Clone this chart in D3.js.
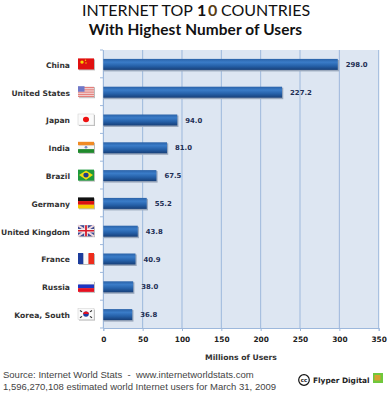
<!DOCTYPE html>
<html>
<head>
<meta charset="utf-8">
<script src="https://cdn.jsdelivr.net/npm/d3@7"></script>
<style>
html, body { margin: 0; padding: 0; background: #fff; }
svg { display: block; }
</style>
</head>
<body>
<div id="chart"></div>
<script>
// Data
const countries = ["China", "United States", "Japan", "India", "Brazil", "Germany", "United Kingdom", "France", "Russia", "Korea, South"];
const users = [298.0, 227.2, 94.0, 81.0, 67.5, 55.2, 43.8, 40.9, 38.0, 36.8];
const xTicks = [0, 50, 100, 150, 200, 250, 300, 350];

const margin = { top: 50, right: 11, bottom: 72, left: 103 };
const width = 390 - margin.left - margin.right;
const height = 400 - margin.top - margin.bottom;

const svg = d3.select("#chart").append("svg").attr("width", 390).attr("height", 400);
const defs = svg.append("defs");

// Bar shading
const grad = defs.append("linearGradient").attr("id", "barFill").attr("x1", 0).attr("x2", 0).attr("y1", 0).attr("y2", 1);
grad.append("stop").attr("offset", "0%").attr("stop-color", "#2a62a8");
grad.append("stop").attr("offset", "30%").attr("stop-color", "#3a7cc8");
grad.append("stop").attr("offset", "65%").attr("stop-color", "#2560a8");
grad.append("stop").attr("offset", "100%").attr("stop-color", "#173f78");

// Titles
svg.append("text").attr("x", 82).attr("y", 16)
    .style("font-family", "Lato").style("font-size", "16px").style("fill", "#111")
    .text("INTERNET TOP");
svg.append("text").attr("x", 197).attr("y", 16.3)
    .style("font-family", "Lato").style("font-size", "16px").style("font-weight", "bold").style("fill", "#111")
    .text("1");
svg.append("text").attr("x", 208).attr("y", 16.3)
    .style("font-family", "Lato").style("font-size", "16px").style("font-weight", "bold").style("fill", "#5a3c14")
    .text("0");
svg.append("text").attr("x", 221).attr("y", 16)
    .style("font-family", "Lato").style("font-size", "16px").style("fill", "#111")
    .text("COUNTRIES");
svg.append("text").attr("x", 195.5).attr("y", 35).attr("text-anchor", "middle")
    .style("font-family", "Lato").style("font-size", "15.4px").style("font-weight", "bold").style("fill", "#111")
    .style("letter-spacing", "0.1px")
    .text("With Highest Number of Users");

const g = svg.append("g").attr("transform", `translate(${margin.left}, ${margin.top})`);

// Scales
const x = d3.scaleLinear().domain([0, 350]).range([0.3, width - 0.3]);
const y = d3.scaleBand().domain(countries).range([0, height]);

// Plot background
g.append("rect").attr("width", width).attr("height", height).attr("fill", "#dde6f2");

// Gridlines
g.selectAll(".grid").data(xTicks).enter().append("line")
    .attr("class", "grid")
    .attr("x1", d => x(d)).attr("x2", d => x(d))
    .attr("y1", 0).attr("y2", height)
    .attr("stroke", "#9db8dc").attr("stroke-width", 1);

// X axis
const xAxis = g.append("g").attr("transform", `translate(0, ${height})`)
    .call(d3.axisBottom(x).tickValues(xTicks).tickSize(3).tickPadding(6));
xAxis.selectAll("path, line").attr("stroke", "#9db8dc");
xAxis.selectAll("text")
    .style("font-family", "'DejaVu Sans'").style("font-size", "7.4px").style("font-weight", "bold").style("fill", "#222");

// Y axis
const yAxis = g.append("g").call(d3.axisLeft(y).tickSize(0).tickPadding(33));
yAxis.selectAll("path").attr("stroke", "#9db8dc");
yAxis.selectAll("text")
    .attr("dy", "0.5em")
    .style("font-family", "'DejaVu Sans'").style("font-size", "7.6px").style("font-weight", "bold").style("fill", "#333");
g.selectAll(".band-tick").data(d3.range(countries.length + 1)).enter().append("line")
    .attr("class", "band-tick")
    .attr("x1", -3).attr("x2", 0)
    .attr("y1", d => d * y.step()).attr("y2", d => d * y.step())
    .attr("stroke", "#9db8dc");

// Bars
const barH = 11;
g.selectAll(".shadow").data(countries).enter().append("rect")
    .attr("class", "shadow")
    .attr("x", 0.5)
    .attr("y", d => y(d) + y.bandwidth() / 2 - barH / 2 + 1.5)
    .attr("width", (d, i) => x(users[i]) - x(0) + 1)
    .attr("height", barH + 0.5)
    .attr("fill", "#9aa8bc");
g.selectAll(".bar").data(countries).enter().append("rect")
    .attr("class", "bar")
    .attr("x", x(0))
    .attr("y", d => y(d) + y.bandwidth() / 2 - barH / 2 + 0.5)
    .attr("width", (d, i) => x(users[i]) - x(0))
    .attr("height", barH)
    .attr("fill", "url(#barFill)");

// Value labels
g.selectAll(".value").data(countries).enter().append("text")
    .attr("class", "value")
    .attr("x", (d, i) => x(users[i]) + 8)
    .attr("y", d => y(d) + y.bandwidth() / 2 + 3)
    .style("font-family", "'DejaVu Sans'").style("font-size", "6.9px").style("font-weight", "bold").style("fill", "#1d2f55")
    .text((d, i) => users[i].toFixed(1));

// X axis title
svg.append("text").attr("x", 241).attr("y", 360).attr("text-anchor", "middle")
    .style("font-family", "'DejaVu Sans'").style("font-size", "7.7px").style("font-weight", "bold").style("fill", "#333")
    .text("Millions of Users");

// Flags, 16x12, drawn in their own little group
const flagDrawers = {
    "China": f => {
        f.append("rect").attr("width", 16).attr("height", 12).attr("fill", "#e01010");
        f.append("circle").attr("cx", 4).attr("cy", 4).attr("r", 1.7).attr("fill", "#f6d800");
        f.append("circle").attr("cx", 7.5).attr("cy", 2).attr("r", 0.7).attr("fill", "#f6d800");
        f.append("circle").attr("cx", 8).attr("cy", 5).attr("r", 0.7).attr("fill", "#f6d800");
    },
    "United States": f => {
        f.append("rect").attr("width", 16).attr("height", 12).attr("fill", "#f4e8e8");
        [1, 3.4, 5.8, 8.2, 10.4].forEach(s => f.append("rect").attr("y", s).attr("width", 16).attr("height", 1.2).attr("fill", "#e2706c"));
        f.append("rect").attr("width", 6.5).attr("height", 6).attr("fill", "#6f78c8");
    },
    "Japan": f => {
        f.append("rect").attr("width", 16).attr("height", 12).attr("fill", "#fafafa").attr("stroke", "#ccc").attr("stroke-width", 0.5);
        f.append("circle").attr("cx", 8).attr("cy", 6).attr("r", 3).attr("fill", "#ee1010");
    },
    "India": f => {
        f.append("rect").attr("width", 16).attr("height", 4).attr("fill", "#f08a24");
        f.append("rect").attr("y", 4).attr("width", 16).attr("height", 4).attr("fill", "#f6f6f6");
        f.append("rect").attr("y", 8).attr("width", 16).attr("height", 4).attr("fill", "#1f8a2c");
        f.append("circle").attr("cx", 8).attr("cy", 6).attr("r", 1.4).attr("fill", "#7a8cc8");
    },
    "Brazil": f => {
        f.append("rect").attr("width", 16).attr("height", 12).attr("fill", "#1f9a3c");
        f.append("path").attr("d", "M8 1 L15 6 L8 11 L1 6 Z").attr("fill", "#f0dc10");
        f.append("circle").attr("cx", 8).attr("cy", 6).attr("r", 2.6).attr("fill", "#1c3c8c");
    },
    "Germany": f => {
        f.append("rect").attr("width", 16).attr("height", 4).attr("fill", "#111");
        f.append("rect").attr("y", 4).attr("width", 16).attr("height", 4).attr("fill", "#dd1010");
        f.append("rect").attr("y", 8).attr("width", 16).attr("height", 4).attr("fill", "#f6c800");
    },
    "United Kingdom": f => {
        f.append("rect").attr("width", 16).attr("height", 12).attr("fill", "#3c4a94");
        f.append("path").attr("d", "M0 0 L16 12 M16 0 L0 12").attr("stroke", "#f0d8dc").attr("stroke-width", 2.2);
        f.append("path").attr("d", "M8 0 V12 M0 6 H16").attr("stroke", "#f4f0f0").attr("stroke-width", 3.6);
        f.append("path").attr("d", "M8 0 V12 M0 6 H16").attr("stroke", "#d81c2c").attr("stroke-width", 1.8);
    },
    "France": f => {
        f.append("rect").attr("width", 5.5).attr("height", 12).attr("fill", "#1c3c9c");
        f.append("rect").attr("x", 5.5).attr("width", 5).attr("height", 12).attr("fill", "#f8f8f8");
        f.append("rect").attr("x", 10.5).attr("width", 5.5).attr("height", 12).attr("fill", "#ee2c1c");
    },
    "Russia": f => {
        f.append("rect").attr("width", 16).attr("height", 4).attr("fill", "#f8f8f8");
        f.append("rect").attr("y", 4).attr("width", 16).attr("height", 4).attr("fill", "#1c34c0");
        f.append("rect").attr("y", 8).attr("width", 16).attr("height", 4).attr("fill", "#e81020");
    },
    "Korea, South": f => {
        f.append("rect").attr("width", 16).attr("height", 12).attr("fill", "#fafafa").attr("stroke", "#ccc").attr("stroke-width", 0.5);
        f.append("path").attr("d", "M2 2 L4 3.5 M14 2 L12 3.5 M2 10 L4 8.5 M14 10 L12 8.5").attr("stroke", "#333").attr("stroke-width", 1.2);
        f.append("circle").attr("cx", 8).attr("cy", 6).attr("r", 2.8).attr("fill", "#1c3ca0");
        f.append("path").attr("d", "M5.2 6 A2.8 2.8 0 0 1 10.8 6 Z").attr("fill", "#e01020");
    }
};
countries.forEach(c => {
    const cy = margin.top + y(c) + y.bandwidth() / 2;
    svg.append("rect").attr("x", 79).attr("y", cy - 4.5).attr("width", 16).attr("height", 11).attr("fill", "#bbb");
    const f = svg.append("g").attr("transform", `translate(78, ${cy - 5.5}) scale(1, 0.92)`);
    flagDrawers[c](f);
});

// Footer
svg.append("text").attr("x", 3).attr("y", 378)
    .style("font-family", "'Liberation Sans'").style("font-size", "9.5px").style("fill", "#444")
    .style("white-space", "pre")
    .text("Source: Internet World Stats  -  www.internetworldstats.com");
svg.append("text").attr("x", 3).attr("y", 390)
    .style("font-family", "'Liberation Sans'").style("font-size", "9.5px").style("fill", "#444")
    .text("1,596,270,108 estimated world Internet users for March 31, 2009");

// Credit
svg.append("circle").attr("cx", 304).attr("cy", 380).attr("r", 5.3).attr("fill", "#fff").attr("stroke", "#111").attr("stroke-width", 1.2);
svg.append("text").attr("x", 304).attr("y", 382).attr("text-anchor", "middle")
    .style("font-family", "'DejaVu Sans'").style("font-size", "5.5px").style("font-weight", "bold").style("fill", "#111")
    .text("cc");
svg.append("text").attr("x", 313).attr("y", 383)
    .style("font-family", "'DejaVu Sans'").style("font-size", "7.4px").style("font-weight", "bold").style("fill", "#222")
    .text("Flyper Digital");
svg.append("rect").attr("x", 373).attr("y", 373).attr("width", 10).attr("height", 10).attr("fill", "#6fc83c");
svg.append("rect").attr("x", 374.5).attr("y", 375).attr("width", 6).attr("height", 5.5).attr("fill", "#d8a030");
</script>
</body>
</html>
